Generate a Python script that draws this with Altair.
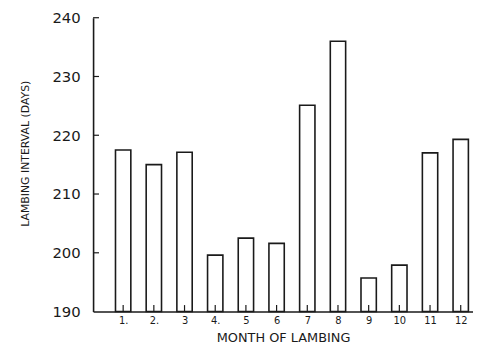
import altair as alt
import pandas as pd

months = [1, 2, 3, 4, 5, 6, 7, 8, 9, 10, 11, 12]
month_labels = ["1.", "2.", "3", "4.", "5", "6", "7", "8", "9", "10", "11", "12"]
interval_days = [217.5, 215.0, 217.1, 199.6, 202.5, 201.6, 225.1, 236.0, 195.7, 197.9, 217.0, 219.3]
y_ticks = [190, 200, 210, 220, 230, 240]

df = pd.DataFrame({"month": months, "days": interval_days})
df_ticks = pd.DataFrame({"v": y_ticks[1:]})

FONT = "DejaVu Sans"
INK = "#1a1a1a"

label_js = "[" + ",".join("'%s'" % s for s in month_labels) + "]"

xscale = alt.Scale(domain=[0.02, 12.4], nice=False, zero=False, padding=0)
yscale = alt.Scale(domain=[190, 240], nice=False, zero=False, padding=0)

xaxis = alt.Axis(values=months, ticks=False, grid=False,
                 labelExpr=label_js + "[datum.value - 1]",
                 labelOverlap=False, labelFont=FONT, titleFont=FONT,
                 title="MONTH OF LAMBING", labelFontSize=10,
                 labelPadding=4, titlePadding=6, titleFontSize=13,
                 titleFontWeight="normal", domainColor=INK, domainWidth=1.6,
                 labelColor=INK, titleColor=INK)
yaxis = alt.Axis(values=y_ticks, ticks=False, grid=False,
                 labelOverlap=False, labelFont=FONT, titleFont=FONT,
                 title="LAMBING INTERVAL (DAYS)", labelFontSize=15,
                 labelPadding=13, titlePadding=22, titleFontSize=11,
                 titleFontWeight="normal", titleY=137, domainColor=INK,
                 domainWidth=1.6, labelColor=INK, titleColor=INK)

bars = alt.Chart(df).mark_bar(
    fill="white", stroke=INK, strokeWidth=1.6, size=15.5
).encode(
    x=alt.X("month:Q", scale=xscale, axis=xaxis),
    y=alt.Y("days:Q", scale=yscale, axis=yaxis),
    y2=alt.Y2(datum=190),
)

xticks = alt.Chart(df).mark_rule(color=INK, strokeWidth=1.2).encode(
    x=alt.X("month:Q", scale=xscale, axis=xaxis),
    y=alt.Y(datum=190, scale=yscale, axis=yaxis),
    y2=alt.Y2(datum=191.1),
)

yticks = alt.Chart(df_ticks).mark_rule(color=INK, strokeWidth=1.2).encode(
    y=alt.Y("v:Q", scale=yscale, axis=yaxis),
    x=alt.value(0),
    x2=alt.value(6),
)

chart = alt.layer(bars, xticks, yticks).properties(
    width=384, height=297, background="white",
    autosize=alt.AutoSizeParams(type="none"),
    padding={"left": 86, "top": 8, "right": 0, "bottom": 34},
).configure_view(strokeWidth=0, stroke="transparent")

chart.save("out.html", embed_options={"renderer": "svg", "actions": False})
